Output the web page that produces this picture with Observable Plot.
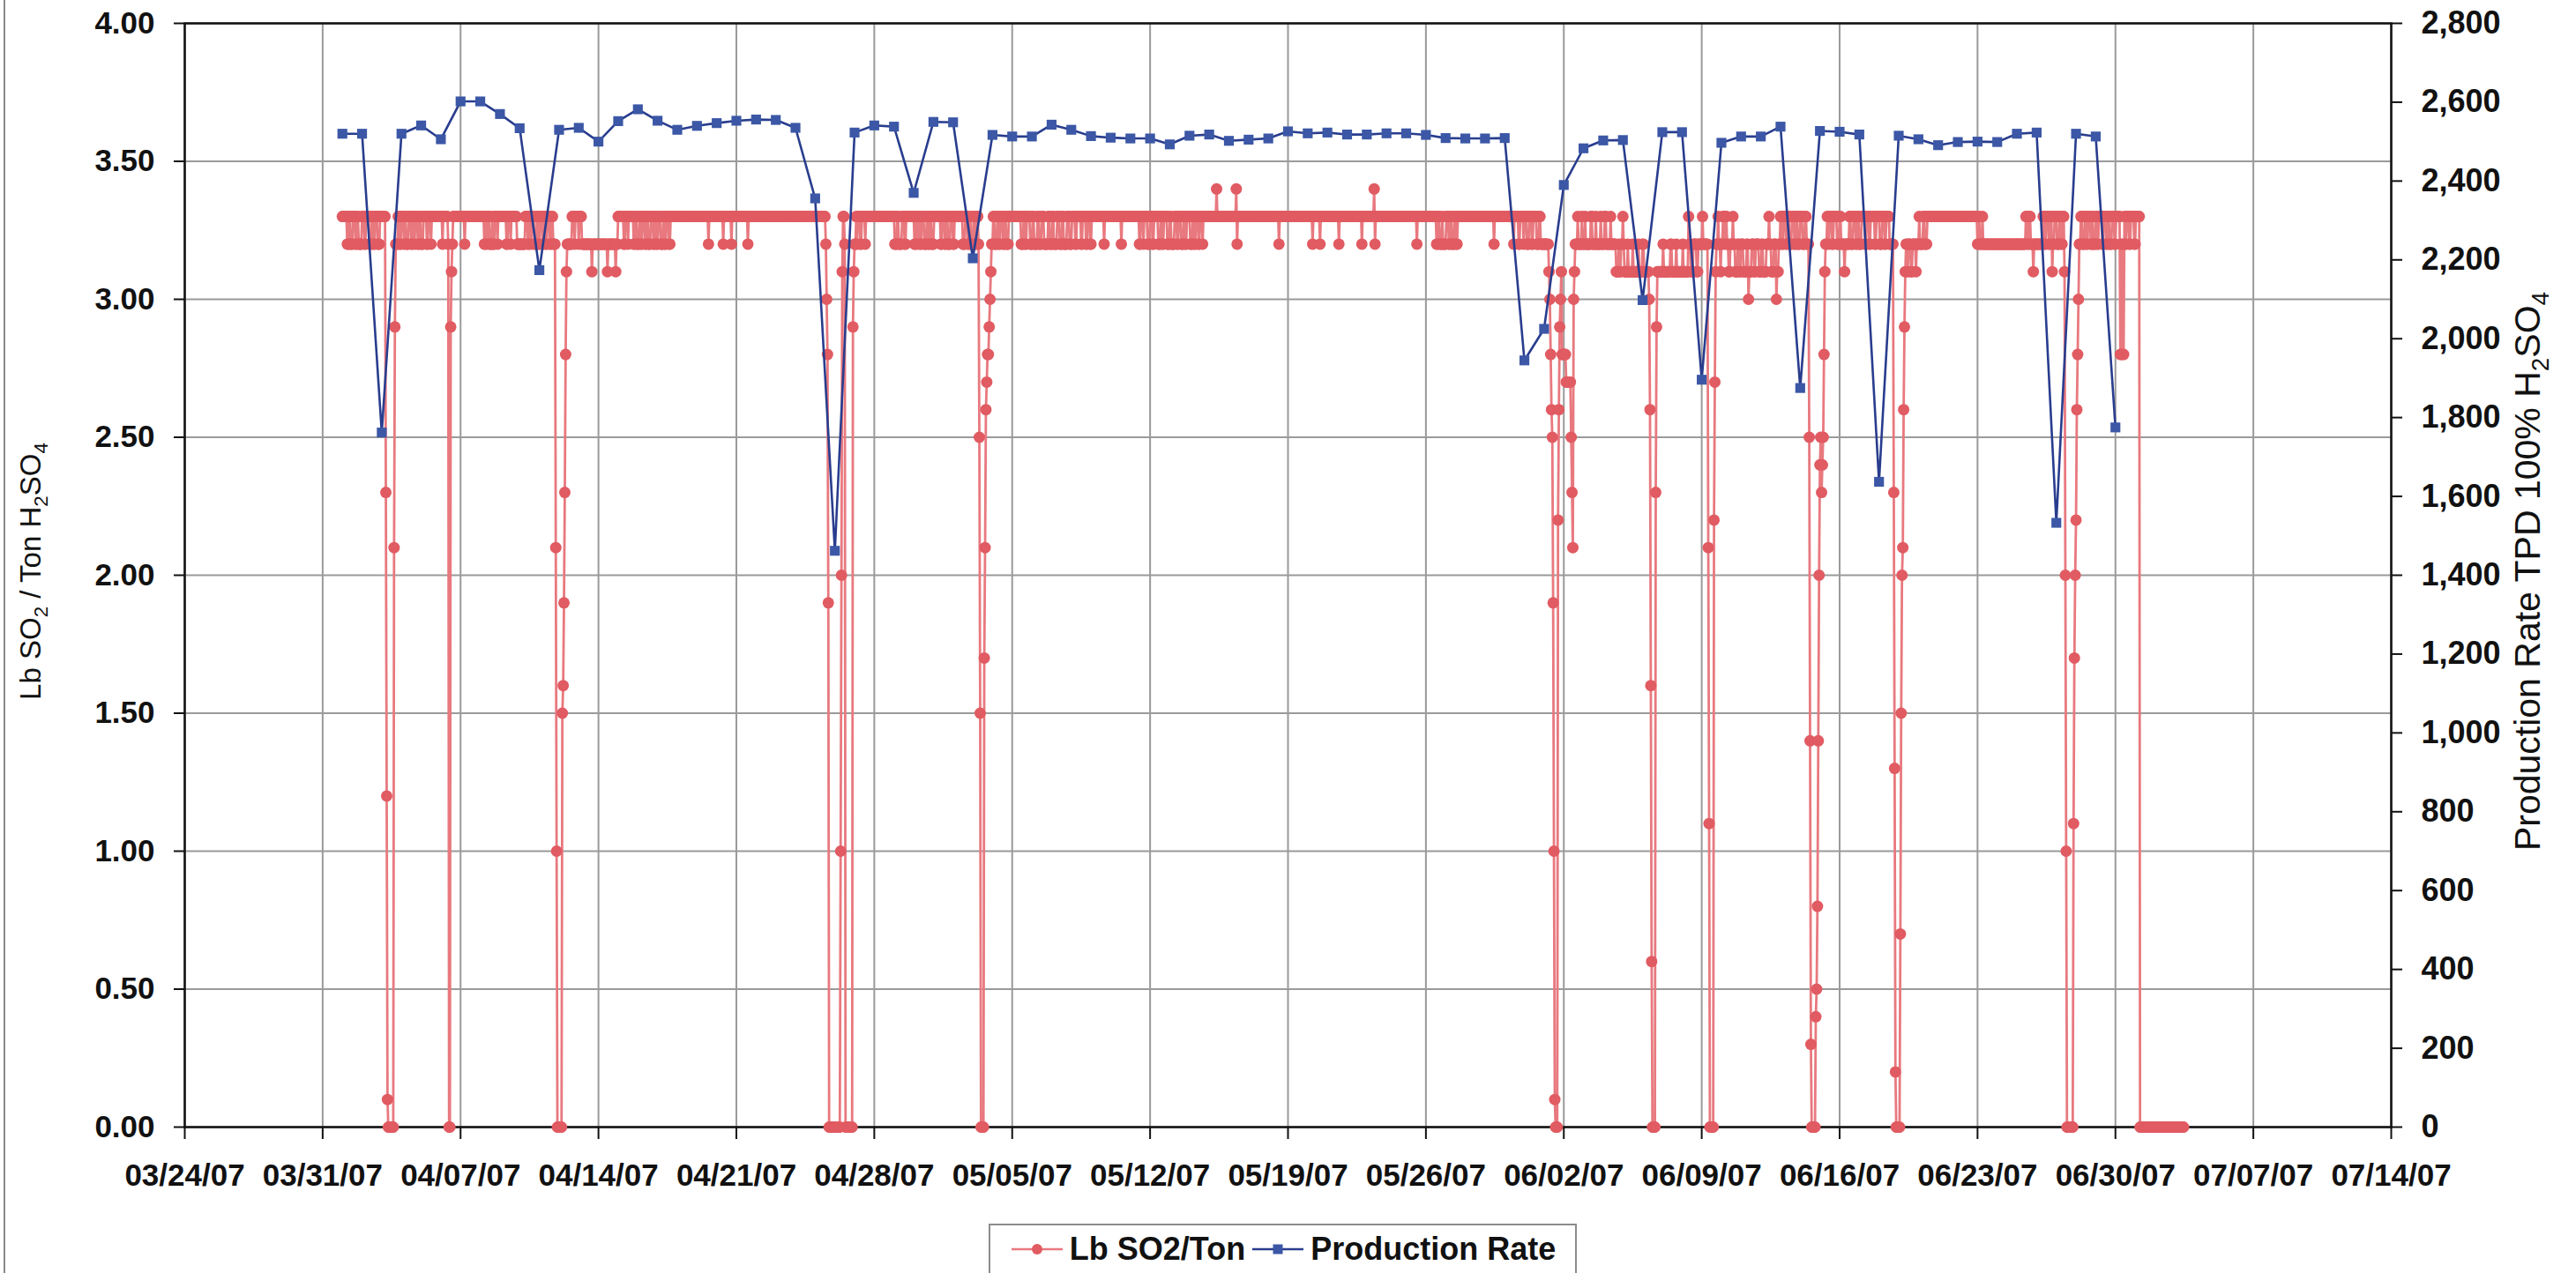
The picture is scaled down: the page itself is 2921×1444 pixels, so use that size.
<!DOCTYPE html>
<html>
<head>
<meta charset="utf-8">
<script src="https://cdn.jsdelivr.net/npm/d3@7"></script>
<script src="https://cdn.jsdelivr.net/npm/@observablehq/plot@0.6"></script>
<style>
  html, body { margin: 0; padding: 0; background: #fff; }
  #wrap { position: relative; width: 2921px; height: 1444px; overflow: hidden; background: #fff;
          font-family: "Liberation Sans", Arial, sans-serif; }
  #edge { position: absolute; left: 4px; top: 0; width: 2px; height: 1444px; background: #8a8a8a; }
  #legend { position: absolute; left: 1121px; top: 1388px; width: 667px; height: 60px; box-sizing: border-box;
            border: 2px solid #8c8c8c; border-bottom: none; display: flex; align-items: center; justify-content: center;
            gap: 6px; font-size: 36px; font-weight: bold; color: #111; padding-bottom: 4px; }
  #legend .item { display: flex; align-items: center; gap: 6px; }
  #legend svg { display: block; }
</style>
</head>
<body>
<div id="wrap">
  <div id="edge"></div>
  <div id="chart"></div>
  <div id="legend"></div>
</div>
<script>
// ---------------- DATA ----------------
const xTickLabels = ["03/24/07","03/31/07","04/07/07","04/14/07","04/21/07","04/28/07","05/05/07","05/12/07",
  "05/19/07","05/26/07","06/02/07","06/09/07","06/16/07","06/23/07","06/30/07","07/07/07","07/14/07"];
const leftTicks = [0, 0.5, 1, 1.5, 2, 2.5, 3, 3.5, 4];
const rightTicks = [0, 200, 400, 600, 800, 1000, 1200, 1400, 1600, 1800, 2000, 2200, 2400, 2600, 2800];

// Production Rate (TPD 100% H2SO4), one reading per day starting 04/01/07
const prodStart = "04/01/07";
const prodRate = [
  2520, 2520, 1762, 2520, 2541, 2506, 2602, 2602, 2570, 2534, 2174, 2530, 2535, 2500, 2552,
  2582, 2553, 2530, 2540, 2547, 2553, 2556, 2555, 2535, 2356, 1462, 2523, 2541, 2538, 2370,
  2550, 2549, 2204, 2517, 2513, 2513, 2543, 2530, 2514, 2510, 2508, 2508, 2493, 2515, 2518,
  2502, 2505, 2508, 2526, 2521, 2523, 2518, 2518, 2521, 2521, 2517, 2509, 2508, 2508, 2509,
  1945, 2025, 2390, 2483, 2503, 2504, 2098, 2524, 2524, 1896, 2497, 2513, 2513, 2538, 1875,
  2527, 2525, 2518, 1637, 2515, 2506, 2491, 2499, 2500, 2499, 2520, 2523, 1533, 2520, 2513, 1775
];

// Lb SO2 / Ton, hourly readings from 04/01/07 00:00 as [value, consecutive hours]
const so2Start = "04/01/07";
const so2RunsPart1 = [
  [3.3,6],[3.2,2],[3.3,2],[3.2,3],[3.3,3],[3.2,2],[3.3,2],[3.2,4],[3.3,3],[3.2,2],[3.3,4],[3.2,3],[3.3,2],[3.2,2],[3.3,3],[3.2,3],[3.3,7],
  [2.3,1],[1.2,1],[0.1,1],[0,7],[2.1,1],[2.9,1],
  [3.2,3],[3.3,2],[3.2,2],[3.3,3],[3.2,1],[3.3,2],[3.2,3],[3.3,3],[3.2,2],[3.3,2],[3.2,1],[3.3,3],[3.2,2],[3.3,2],[3.2,3],[3.3,4],[3.2,2],[3.3,3],[3.2,1],[3.3,5],
  [3.3,8],[3.2,1],[3.3,6],
  [3.2,1],[0,2],[2.9,1],[3.1,1],[3.2,1],
  [3.3,14],[3.2,1],[3.3,23],
  [3.2,2],[3.3,2],[3.2,1],[3.3,2],[3.2,3],[3.3,1],[3.2,2],[3.3,3],[3.2,1],[3.3,2],
  [3.3,8],[3.2,2],[3.3,3],[3.2,1],[3.3,7],
  [3.2,10],
  [3.3,3],[3.2,2],[3.3,2],[3.2,1],[3.3,3],[3.2,3],[3.3,2],[3.2,2],[3.3,3],[3.2,2],[3.3,2],[3.2,2],[3.3,3],[3.2,2],[3.3,2],[3.2,3],
  [2.1,1],[1.0,1],[0,6],[1.5,1],[1.6,1],[1.9,1],[2.3,1],[2.8,1],[3.1,1],
  [3.2,6],[3.3,3],[3.2,1],[3.3,4],[3.2,1],[3.3,3],
  [3.2,12],[3.1,1],[3.2,18],[3.1,1],[3.2,9],[3.1,1],[3.2,2]
];
const so2RunsPart2 = [
  [3.3,7],
  [3.2,2],[3.3,3],[3.2,1],[3.3,6],[3.2,2],[3.3,2],[3.2,3],[3.3,2],[3.2,2],[3.3,3],[3.2,2],[3.3,2],[3.2,3],[3.3,3],[3.2,2],[3.3,2],[3.2,2],[3.3,3],[3.2,3],[3.3,2],[3.2,2],[3.3,3],[3.2,2],
  [3.3,46],[3.2,1],[3.3,17],[3.2,1],[3.3,9],[3.2,1],[3.3,19],[3.2,1],[3.3,94],
  [3.2,1],[3.0,1],[2.8,1],[1.9,1],[0,14],[1.0,1],[2.0,1],[3.1,1],[3.3,2],[3.2,1],[0,9],[2.9,1],[3.1,1],[3.2,2],[3.3,1],
  [3.2,1],[3.3,3],[3.2,2],[3.3,4],[3.2,1],[3.3,5],[3.3,30],[3.2,3],[3.3,2],[3.2,4],[3.3,3],[3.2,2],[3.3,10],
  [3.2,2],[3.3,2],[3.2,1],[3.3,2],[3.2,2],[3.3,3],[3.2,3],[3.3,2],[3.2,2],[3.3,2],[3.2,3],[3.3,8],
  [3.2,2],[3.3,3],[3.2,2],[3.3,2],[3.2,3],[3.3,3],[3.2,2],[3.3,4],[3.3,6],
  [3.2,3],[3.3,3],[3.2,2],[3.3,2],[3.2,3],[3.3,2],[3.2,2],[3.3,2],[3.2,1],
  [2.5,1],[1.5,1],[0,4],[1.7,1],[2.1,1],[2.6,1],[2.7,1],[2.8,2],[2.9,1],[3.0,1],[3.1,1]
];
const so2RunsPart3 = [
  [3.2,2],[3.3,2],[3.2,3],[3.3,2],[3.2,2],[3.3,3],[3.2,2],[3.3,2],[3.2,3],[3.3,4],
  [3.3,11],
  [3.2,3],[3.3,2],[3.2,2],[3.3,4],[3.2,3],[3.3,2],[3.2,4],[3.3,2],[3.2,3],[3.3,3],[3.2,5],[3.3,2],[3.2,3],[3.3,2],[3.2,4],
  [3.3,3],[3.2,3],[3.3,2],[3.2,4],[3.3,3],[3.2,3],[3.3,4],[3.2,2],[3.3,5],[3.2,2],[3.3,4],[3.2,2],[3.3,3],[3.2,2],[3.3,6],
  [3.3,9],[3.2,1],[3.3,20],[3.2,1],[3.3,21],
  [3.2,2],[3.3,3],[3.2,1],[3.3,4],[3.2,3],[3.3,3],[3.2,2],[3.3,5],[3.2,3],[3.3,2],[3.2,2],[3.3,4],[3.2,3],[3.3,2],[3.2,4],
  [3.3,3],[3.2,2],[3.3,3],[3.2,3],[3.3,2],[3.2,2],[3.3,4],[3.2,3],[3.3,2],[3.2,2],[3.3,3],[3.2,2],[3.3,3],[3.2,1],[3.3,2],
  [3.3,14],[3.4,1],[3.3,23],[3.4,1],[3.2,1],[3.3,50],[3.2,1],[3.3,40],[3.2,1],[3.3,8],[3.2,1],[3.3,22],[3.2,1],[3.3,27],
  [3.2,1],[3.3,14],[3.4,1],[3.2,1],[3.3,50],[3.2,1],[3.3,23],
  [3.2,2],[3.3,2],[3.2,3],[3.3,1],[3.2,4],[3.3,3],[3.2,2],[3.3,2],[3.2,3],[3.3,2],[3.2,2],[3.3,4],
  [3.3,40],[3.2,1],[3.3,23],[3.2,1],[3.3,2],
  [3.3,3],[3.2,2],[3.3,4],[3.2,1],[3.3,3],[3.2,3],[3.3,3],[3.2,2],[3.3,4],[3.2,3],[3.3,2],[3.2,10]
];
const so2RunsPart4 = [
  [3.1,1],[3.0,1],[2.8,1],[2.6,1],[2.5,1],[1.9,1],[1.0,1],[0.1,1],[0,3],[2.2,1],[2.6,1],[2.9,1],[3.0,1],[3.1,1],
  [2.8,5],[2.7,6],[2.5,1],[2.3,1],[2.1,1],[3.0,1],[3.1,1],
  [3.2,3],[3.3,1],[3.2,4],[3.3,1],[3.2,3],[3.3,1],[3.2,6],
  [3.3,2],[3.2,4],[3.3,1],[3.2,5],[3.3,1],[3.2,4],[3.3,2],[3.2,5],[3.3,1],[3.2,6],
  [3.1,3],[3.2,1],[3.1,2],[3.2,2],[3.3,1],[3.2,1],[3.1,4],[3.2,1],[3.1,5],[3.2,1],[3.1,6],[3.2,1],[3.1,4],[3.2,2],[3.1,6],
  [3.0,1],[2.6,1],[1.6,1],[0.6,1],[0,4],[2.3,1],[2.9,1],[3.1,1],
  [3.1,6],[3.2,1],[3.1,8],[3.2,2],[3.1,5],[3.2,1],[3.1,7],[3.2,1],[3.1,6],[3.3,1],[3.2,2],[3.1,3],[3.2,4],[3.1,2],[3.2,5],[3.3,1],[3.2,6],
  [2.1,1],[1.1,1],[0,5],[2.2,1],[2.7,1],[3.1,1],
  [3.2,2],[3.3,1],[3.2,2],[3.1,1],[3.2,2],[3.3,2],[3.2,1],[3.3,2],[3.2,2],[3.1,2],[3.2,3],[3.3,1],[3.2,2],[3.1,3],[3.2,2],
  [3.1,2],[3.2,3],[3.1,4],[3.2,2],[3.0,1],[3.1,3],[3.2,3],[3.1,2],[3.2,4],[3.1,3],[3.2,2],[3.1,4],[3.2,3],[3.3,1],[3.2,2],
  [3.1,3],[3.2,3],[3.0,1],[3.1,2],[3.2,2],[3.3,2],[3.2,2],[3.3,3],[3.2,2],[3.3,2],[3.2,3],[3.3,3],[3.2,2],[3.3,2],[3.2,3],
  [3.3,3],[3.2,3],[3.3,2],[3.2,3],
  [2.5,1],[1.4,1],[0.3,1],[0,5],[0.4,1],[0.5,1],[0.8,1],[1.4,1],[2.0,1],[2.4,1],[2.5,1],[2.3,1],[2.4,1],[2.5,1],[2.8,1],[3.1,1],
  [3.2,2],[3.3,2],[3.2,1],[3.3,3],[3.2,2],[3.3,4],[3.2,3],[3.3,2],[3.2,4],[3.1,1],[3.2,5],[3.3,2],[3.2,3],[3.3,3],[3.2,2],
  [3.3,2],[3.2,3],[3.3,4],[3.2,2],[3.3,3],[3.2,2],[3.3,5],[3.2,2],[3.3,4],[3.2,3],[3.3,3],[3.2,2],[3.3,4],[3.2,5],
  [2.3,1],[1.3,1],[0.2,1],[0,5],[0.7,1],[1.5,1],[2.0,1],[2.1,1],[2.6,1],[2.9,1],[3.1,1],
  [3.2,2],[3.1,1],[3.2,3],[3.1,2],[3.2,4],[3.1,1],[3.2,3],[3.3,1],[3.2,4],[3.3,2],[3.2,3],[3.3,3],
  [3.3,56],
  [3.3,2],[3.2,2],[3.3,1],[3.2,3],[3.3,1],[3.2,52],
  [3.3,2],[3.2,2],[3.3,2],[3.2,3],[3.1,1],[3.2,3],
  [3.2,8],[3.3,2],[3.2,2],[3.3,3],[3.2,2],[3.3,2],[3.1,1],[3.2,2],[3.3,3],[3.2,3],[3.3,2],[3.2,2],[3.3,2],
  [3.1,1],[2.0,1],[1.0,1],[0,8],[1.1,1],[1.7,1],[2.0,1],[2.2,1],[2.6,1],[2.8,1],[3.0,1],
  [3.2,2],[3.3,2],[3.2,3],[3.3,2],[3.2,2],[3.3,3],[3.2,2],[3.3,1],[3.2,3],[3.3,2],[3.2,2],[3.3,4],[3.2,2],[3.3,3],[3.2,2],
  [3.3,2],[3.2,3],[3.3,3],[3.2,2],[3.3,5],
  [2.8,1],[3.2,1],[2.8,1],[3.2,1],[2.8,1],[3.3,1],
  [3.2,2],[3.3,3],[3.2,2],[3.3,4],[3.2,2],[3.3,5],
  [0,54]
];

// ---------------- BUILD TABLES ----------------
const parseDate = d3.utcParse("%m/%d/%y");
const xTicks = xTickLabels.map(parseDate);
const leftPerRight = 4 / 2800; // right axis 0..2800 maps onto left axis 0..4

const prod = prodRate.map((v, i) => ({date: d3.utcDay.offset(parseDate(prodStart), i), value: v}));
const so2 = [];
{
  let t = parseDate(so2Start);
  for (const runs of [so2RunsPart1, so2RunsPart2, so2RunsPart3, so2RunsPart4]) {
    for (const [v, n] of runs) {
      for (let i = 0; i < n; i++) { so2.push({date: t, value: v}); t = d3.utcHour.offset(t, 1); }
    }
  }
}

const RED_LINE = "#e8797f", RED_DOT = "#e15b62", BLUE_LINE = "#293d8e", BLUE_DOT = "#3b57a6";
const FONT = "'Liberation Sans', Arial, sans-serif";

const chart = Plot.plot({
  width: 2921,
  height: 1380,
  marginLeft: 209,
  marginRight: 210,
  marginTop: 26,
  marginBottom: 102,
  x: {type: "utc", domain: [xTicks[0], xTicks[xTicks.length - 1]]},
  y: {domain: [0, 4]},
  style: {fontFamily: FONT, background: "white", color: "#111", overflow: "visible"},
  marks: [
    Plot.gridX(xTicks, {stroke: "#9a9a9a", strokeOpacity: 1, strokeWidth: 2}),
    Plot.gridY(leftTicks, {stroke: "#9a9a9a", strokeOpacity: 1, strokeWidth: 2}),
    Plot.axisX(xTicks, {tickFormat: d3.utcFormat("%m/%d/%y"), tickSize: 14, tickPadding: 28, strokeWidth: 2,
      fontSize: 35, fontWeight: "bold", label: null}),
    Plot.axisY(leftTicks, {anchor: "left", tickFormat: d3.format(".2f"), tickSize: 12, tickPadding: 22, strokeWidth: 2,
      fontSize: 35, fontWeight: "bold", label: null}),
    Plot.axisY(rightTicks.map(d => d * leftPerRight), {anchor: "right",
      tickFormat: d => d3.format(",")(Math.round(d / leftPerRight)), tickSize: 12, tickPadding: 22, strokeWidth: 2,
      fontSize: 36, fontWeight: "bold", label: null}),
    Plot.frame({stroke: "#111", strokeWidth: 2.5}),
    Plot.line(so2, {x: "date", y: "value", stroke: RED_LINE, strokeWidth: 2.8}),
    Plot.dot(so2, {x: "date", y: "value", r: 6.5, fill: RED_DOT, stroke: "none"}),
    Plot.line(prod, {x: "date", y: d => d.value * leftPerRight, stroke: BLUE_LINE, strokeWidth: 2.6}),
    Plot.dot(prod, {x: "date", y: d => d.value * leftPerRight, symbol: "square", r: 6.3, fill: BLUE_DOT, stroke: "none"})
  ]
});
document.getElementById("chart").appendChild(chart);

// axis titles with subscripts
function addTitle(svg, x, y, parts, size) {
  const t = svg.append("text")
    .attr("transform", `translate(${x},${y}) rotate(-90)`)
    .attr("text-anchor", "middle")
    .attr("font-family", FONT)
    .attr("font-size", size)
    .attr("fill", "#111");
  parts.forEach(([s, sub], i) => {
    const prevSub = i > 0 && parts[i - 1][1];
    const ts = t.append("tspan").text(s);
    if (sub) ts.attr("font-size", size * 0.68).attr("dy", prevSub ? 0 : size * 0.25);
    else ts.attr("dy", prevSub ? -size * 0.25 : 0);
  });
}
const svgSel = d3.select(chart);
addTitle(svgSel, 46, 648, [["Lb SO",0],["2",1],[" / Ton H",0],["2",1],["SO",0],["4",1]], 33);
addTitle(svgSel, 2880, 648, [["Production Rate TPD 100% H",0],["2",1],["SO",0],["4",1]], 41);

// legend
const legend = d3.select("#legend");
function legendItem(label, color, lineColor, shape) {
  const item = legend.append("div").attr("class", "item");
  const s = item.append("svg").attr("width", 62).attr("height", 24);
  s.append("line").attr("x1", 2).attr("x2", 60).attr("y1", 12).attr("y2", 12)
    .attr("stroke", lineColor).attr("stroke-width", 2.5);
  if (shape === "circle") s.append("circle").attr("cx", 31).attr("cy", 12).attr("r", 6).attr("fill", color);
  else s.append("rect").attr("x", 25.5).attr("y", 6.5).attr("width", 11).attr("height", 11).attr("fill", color);
  item.append("span").text(label);
}
legendItem("Lb SO2/Ton", RED_DOT, RED_LINE, "circle");
legendItem("Production Rate", BLUE_DOT, BLUE_LINE, "square");
</script>
</body>
</html>
